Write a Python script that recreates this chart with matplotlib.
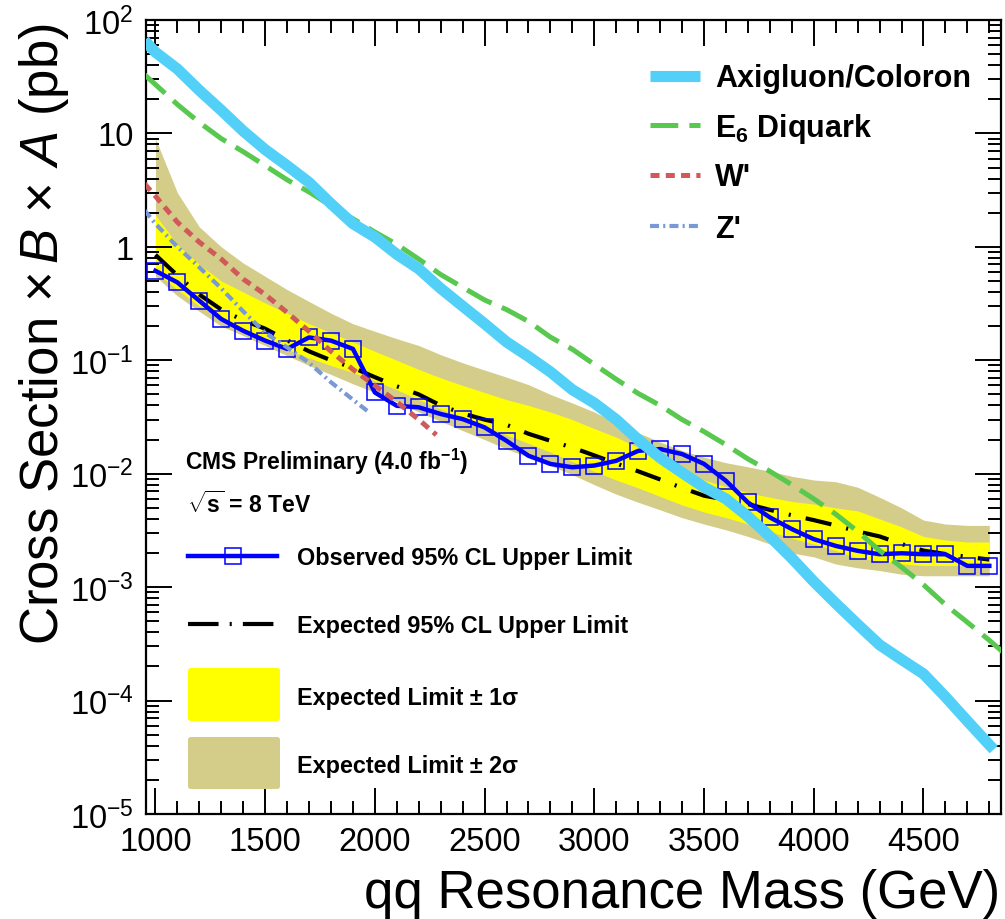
import matplotlib
matplotlib.use("Agg")
import matplotlib.pyplot as plt
from matplotlib.lines import Line2D
from matplotlib.patches import FancyBboxPatch
from matplotlib.ticker import MultipleLocator, FixedLocator, FuncFormatter, LogLocator, NullFormatter

plt.rcParams['font.family'] = ['Liberation Sans', 'DejaVu Sans']
plt.rcParams['mathtext.fontset'] = 'custom'
plt.rcParams['mathtext.rm'] = 'Liberation Sans'
plt.rcParams['mathtext.it'] = 'Liberation Sans:italic'
plt.rcParams['mathtext.bf'] = 'Liberation Sans:bold'
plt.rcParams['lines.scale_dashes'] = False

# ---------------- data ----------------
mass = [1000, 1100, 1200, 1300, 1400, 1500, 1600, 1700, 1800, 1900,
        2000, 2100, 2200, 2300, 2400, 2500, 2600, 2700, 2800, 2900,
        3000, 3100, 3200, 3300, 3400, 3500, 3600, 3700, 3800, 3900,
        4000, 4100, 4200, 4300, 4400, 4500, 4600, 4700, 4800]

observed = [0.615, 0.486, 0.335, 0.231, 0.182, 0.149, 0.126, 0.159, 0.149, 0.126,
            0.052, 0.0397, 0.0385, 0.0336, 0.0303, 0.0256, 0.0195, 0.0144, 0.0122, 0.0114,
            0.0118, 0.0130, 0.0159, 0.0165, 0.0149, 0.0122, 0.00866, 0.00558, 0.00412, 0.00325,
            0.00265, 0.00231, 0.00209, 0.00195, 0.00199, 0.00195, 0.00195, 0.00154, 0.00154]

expected = [0.85, 0.56, 0.38, 0.28, 0.225, 0.19, 0.15, 0.12, 0.10, 0.086,
            0.071, 0.059, 0.050, 0.040, 0.034, 0.030, 0.027, 0.0225, 0.0195, 0.0170,
            0.0145, 0.0123, 0.0105, 0.0089, 0.0075, 0.0064, 0.0059, 0.0054, 0.0048, 0.0043,
            0.0039, 0.0035, 0.0031, 0.0028, 0.0024, 0.0021, 0.00196, 0.00185, 0.00175]

exp_up2 = [9.0, 3.0, 1.5, 1.0, 0.72, 0.55, 0.42, 0.33, 0.26, 0.21,
           0.18, 0.155, 0.135, 0.112, 0.095, 0.082, 0.071, 0.061, 0.050, 0.042,
           0.035, 0.028, 0.023, 0.019, 0.016, 0.014, 0.0125, 0.0115, 0.0105, 0.0095,
           0.0088, 0.0085, 0.0076, 0.0062, 0.0050, 0.0039, 0.0036, 0.0035, 0.0035]

exp_up1 = [1.9, 1.05, 0.70, 0.50, 0.40, 0.32, 0.26, 0.21, 0.175, 0.145,
           0.12, 0.10, 0.083, 0.070, 0.060, 0.052, 0.045, 0.040, 0.035, 0.030,
           0.025, 0.021, 0.017, 0.013, 0.0105, 0.0088, 0.0077, 0.0068, 0.0062, 0.0057,
           0.0054, 0.0050, 0.0047, 0.0040, 0.0034, 0.0028, 0.0026, 0.0025, 0.0025]

exp_dn1 = [0.60, 0.42, 0.30, 0.235, 0.19, 0.155, 0.125, 0.105, 0.090, 0.078,
           0.066, 0.055, 0.045, 0.037, 0.031, 0.026, 0.022, 0.0185, 0.0155, 0.0128,
           0.0105, 0.0088, 0.0075, 0.0063, 0.0053, 0.0046, 0.0041, 0.0036, 0.0031, 0.0027,
           0.0024, 0.0021, 0.0018, 0.0017, 0.0016, 0.00155, 0.00155, 0.00155, 0.00155]

exp_dn2 = [0.55, 0.37, 0.27, 0.20, 0.165, 0.135, 0.11, 0.09, 0.075, 0.062,
           0.052, 0.043, 0.035, 0.029, 0.024, 0.020, 0.0165, 0.014, 0.0118, 0.0098,
           0.0080, 0.0066, 0.0056, 0.0048, 0.0041, 0.0036, 0.0032, 0.0028, 0.0024, 0.0020,
           0.00185, 0.0016, 0.00148, 0.0014, 0.0013, 0.00126, 0.00126, 0.00126, 0.00126]

# theory predictions
axi_mass = [950, 1000, 1100, 1200, 1300, 1400, 1500, 1600, 1700, 1800, 1900,
            2000, 2100, 2200, 2300, 2400, 2500, 2600, 2700, 2800, 2900,
            3000, 3100, 3200, 3300, 3400, 3500, 3600, 3700, 3800, 3900,
            4000, 4100, 4200, 4300, 4400, 4500, 4600, 4700, 4820]
axigluon = [66, 52, 37, 24, 16, 10.5, 7.2, 5.2, 3.7, 2.4, 1.6,
            1.22, 0.86, 0.64, 0.43, 0.30, 0.21, 0.145, 0.108, 0.079, 0.055,
            0.042, 0.030, 0.020, 0.0138, 0.0102, 0.0076, 0.0060, 0.0042, 0.0028, 0.0018,
            0.00112, 0.00072, 0.00047, 0.00031, 0.00023, 0.000172, 0.000108, 0.000066, 0.000037]

dq_mass = [950, 1000, 1100, 1200, 1300, 1400, 1500, 1600, 1700, 1800, 1900,
           2000, 2100, 2200, 2300, 2400, 2500, 2600, 2700, 2800, 2900,
           3000, 3100, 3200, 3300, 3400, 3500, 3600, 3700, 3800, 3900,
           4000, 4100, 4200, 4300, 4400, 4500, 4600, 4700, 4800, 4860]
diquark = [33, 27, 18, 12.5, 9.0, 6.9, 5.2, 3.9, 3.05, 2.3, 1.77,
           1.35, 1.05, 0.78, 0.57, 0.44, 0.34, 0.28, 0.22, 0.16, 0.125,
           0.092, 0.068, 0.051, 0.040, 0.030, 0.0235, 0.018, 0.0135, 0.0105, 0.0080,
           0.0060, 0.0044, 0.0031, 0.0021, 0.00150, 0.00105, 0.00070, 0.00049, 0.00034, 0.00027]

wp_mass = [950, 1000, 1100, 1200, 1300, 1400, 1500, 1600, 1700, 1800, 1900,
           2000, 2100, 2200, 2280]
wprime = [3.6, 2.8, 1.65, 1.1, 0.78, 0.52, 0.38, 0.264, 0.18, 0.12, 0.083,
          0.060, 0.043, 0.030, 0.022]

zp_mass = [950, 1000, 1100, 1200, 1300, 1400, 1500, 1600, 1700, 1800, 1900, 1980]
zprime = [2.1, 1.6, 1.0, 0.66, 0.43, 0.27, 0.175, 0.13, 0.095, 0.064, 0.045, 0.034]

x_ticks = [1000, 1500, 2000, 2500, 3000, 3500, 4000, 4500]
y_ticks = [1e-5, 1e-4, 1e-3, 1e-2, 1e-1, 1, 10, 100]
y_tick_labels = [r'$\mathregular{10^{-5}}$', r'$\mathregular{10^{-4}}$', r'$\mathregular{10^{-3}}$',
                 r'$\mathregular{10^{-2}}$', r'$\mathregular{10^{-1}}$', '1', '10',
                 r'$\mathregular{10^{2}}$']

# ---------------- styles ----------------
C_AXI = '#52D0F8'
C_DQ = '#58C84E'
C_WP = '#D05A5A'
C_ZP = '#7898D6'
C_OBS = '#0000FF'
C_1S = '#FFFF00'
C_2S = '#D3CD89'

DASH_DQ = (0, (20, 8))
DASH_WP = (0, (6.5, 4.5))
DASH_ZP = (0, (6.5, 3, 1.5, 3))
DASH_EXP = (0, (19, 11, 1.5, 11))

W, H = 1005, 920
fig = plt.figure(figsize=(W / 100, H / 100), dpi=100)
ax = fig.add_axes([146 / W, 105 / H, 854.5 / W, 794 / H])

ax.fill_between(mass, exp_dn2, exp_up2, color=C_2S, lw=0, zorder=1)
ax.fill_between(mass, exp_dn1, exp_up1, color=C_1S, lw=0, zorder=1.1)
ax.plot(mass, expected, color='black', lw=3.0, linestyle=DASH_EXP, zorder=2)
ax.plot(mass, observed, color=C_OBS, lw=3.2, marker='s', ms=11.5, mfc='none',
        mec=C_OBS, mew=1.1, zorder=3)
ax.plot(wp_mass, wprime, color=C_WP, lw=3.6, linestyle=DASH_WP, zorder=4)
ax.plot(zp_mass, zprime, color=C_ZP, lw=3.0, linestyle=DASH_ZP, zorder=4)
ax.plot(dq_mass, diquark, color=C_DQ, lw=3.6, linestyle=DASH_DQ, zorder=4)
ax.plot(axi_mass, axigluon, color=C_AXI, lw=8, solid_capstyle='butt', zorder=5)

ax.set_yscale('log')
ax.set_xlim(957, 4851)
ax.set_ylim(1e-5, 1e2)

ax.xaxis.set_major_locator(FixedLocator(x_ticks))
ax.xaxis.set_minor_locator(MultipleLocator(100))
ax.xaxis.set_major_formatter(FuncFormatter(lambda v, p: f'{int(round(v))}'))
ax.yaxis.set_major_locator(FixedLocator(y_ticks))
ax.yaxis.set_major_formatter(FuncFormatter(
    lambda v, p: y_tick_labels[y_ticks.index(min(y_ticks, key=lambda t: abs(t / v - 1)))]))
ax.yaxis.set_minor_locator(LogLocator(base=10, subs=range(2, 10), numticks=20))
ax.yaxis.set_minor_formatter(NullFormatter())

ax.tick_params(which='both', direction='in', top=True, right=True, width=1.4,
               labelsize=23.5, pad=9, colors='black')
ax.tick_params(which='major', length=19)
ax.tick_params(which='minor', length=9.5)
for s in ax.spines.values():
    s.set_linewidth(1.6)

fig.text(1000 / W, 1 - 908 / H, 'qq Resonance Mass (GeV)', fontsize=38,
         ha='right', va='baseline')
fig.text(58 / W, 1 - 23 / H, r'Cross Section $\times\,\mathit{B}\,\times\,\mathit{A}$ (pb)',
         fontsize=38, rotation=90, rotation_mode='anchor', ha='right', va='baseline')


def fxy(px, py):
    return px / W, 1 - py / H


def key_line(x0, x1, y, **kw):
    (a, b), (c, d) = fxy(x0, y), fxy(x1, y)
    fig.add_artist(Line2D([a, c], [b, d], transform=fig.transFigure, **kw))


def key_text(x, y, s, size):
    a, b = fxy(x, y)
    fig.text(a, b, s, fontsize=size, fontweight='bold', ha='left', va='baseline')


# model legend (top right)
rows = [(77, 'Axigluon/Coloron', dict(color=C_AXI, lw=8, solid_capstyle='butt')),
        (126, r'$\mathbf{E_{6}}$ Diquark', dict(color=C_DQ, lw=3.6, linestyle=DASH_DQ)),
        (176, "W'", dict(color=C_WP, lw=3.6, linestyle=DASH_WP)),
        (227, "Z'", dict(color=C_ZP, lw=3.0, linestyle=DASH_ZP))]
for y, label, style in rows:
    key_line(650, 700, y, **style)
    key_text(715, y + 10.5, label, 22)

# limit legend (bottom left)
key_text(185, 470, r'CMS Preliminary (4.0 fb$^{\mathbf{-1}}$)', 16.5)
key_text(187, 513, r'$\sqrt{\mathbf{s}}$ = 8 TeV', 16.5)

key_line(188, 277, 557, color=C_OBS, lw=3.2)
mx, my = fxy(233, 557)
fig.add_artist(Line2D([mx], [my], transform=fig.transFigure, marker='s', ms=11.5,
                      mfc='none', mec=C_OBS, mew=1.1, lw=0))
key_text(297, 565, 'Observed 95% CL Upper Limit', 16.8)

key_line(188, 277, 625, color='black', lw=3.0, linestyle=(0, (22, 8, 1.5, 8)))
key_text(297, 633, 'Expected 95% CL Upper Limit', 16.8)

for (y0, y1, col, lab, base) in [(669, 722, C_1S, 'Expected Limit \u00b1 1\u03c3', 705),
                                 (738, 790, C_2S, 'Expected Limit \u00b1 2\u03c3', 773)]:
    a, b = fxy(188, y1)
    fig.add_artist(FancyBboxPatch((a, b), 92 / W, (y1 - y0) / H,
                                  boxstyle='round,pad=0,rounding_size=0.003',
                                  transform=fig.transFigure, color=col, lw=0))
    key_text(297, base, lab, 16.8)

fig.savefig('out.png', dpi=100)
